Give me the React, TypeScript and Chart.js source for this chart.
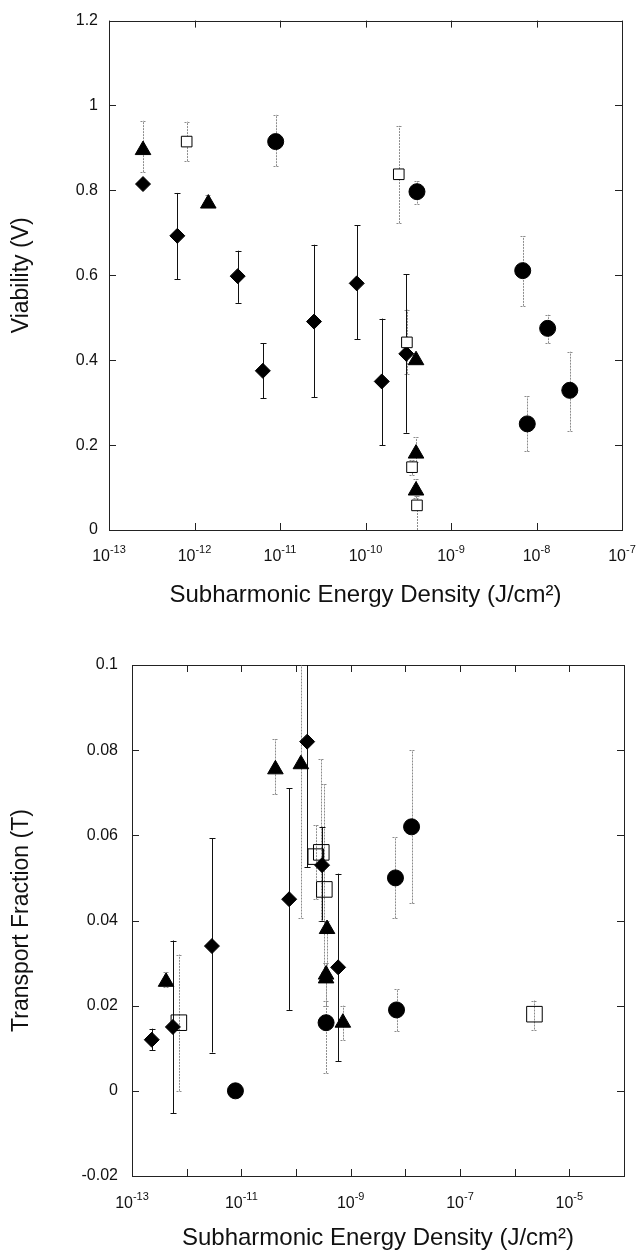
import React, { useEffect, useRef } from 'react';
import { Chart, registerables } from 'chart.js';

Chart.register(...registerables);

const FONT = '"Liberation Sans", Arial, Helvetica, sans-serif';
const X_TITLE = 'Subharmonic Energy Density (J/cm²)';

// ---------- Top chart: Viability ----------
const topXTicks = [1e-13, 1e-12, 1e-11, 1e-10, 1e-9, 1e-8, 1e-7];
const topXTickExp = ['-13', '-12', '-11', '-10', '-9', '-8', '-7'];
const topYTicks = [0, 0.2, 0.4, 0.6, 0.8, 1, 1.2];
const topYTickLabels = ['0', '0.2', '0.4', '0.6', '0.8', '1', '1.2'];

const topDiamondX = [2.5e-13, 6.3e-13, 3.2e-12, 6.3e-12, 2.5e-11, 7.9e-11, 1.55e-10, 3.0e-10];
const topDiamondY = [0.815, 0.693, 0.598, 0.375, 0.491, 0.581, 0.35, 0.415];
const topDiamondLo = [null, 0.591, 0.535, 0.31, 0.313, 0.449, 0.2, 0.229];
const topDiamondHi = [null, 0.794, 0.658, 0.44, 0.672, 0.718, 0.498, 0.602];

const topTriangleX = [2.5e-13, 1.45e-12, 3.9e-10, 3.9e-10, 3.9e-10];
const topTriangleY = [0.895, 0.769, 0.4, 0.18, 0.093];
const topTriangleLo = [0.843, 0.762, null, 0.16, 0.075];
const topTriangleHi = [0.964, 0.79, null, 0.218, 0.12];

const topSquareX = [8.1e-13, 2.45e-10, 3.05e-10, 3.5e-10, 4.0e-10];
const topSquareY = [0.915, 0.838, 0.442, 0.148, 0.058];
const topSquareLo = [0.869, 0.723, 0.368, 0.13, 0.0];
const topSquareHi = [0.962, 0.952, 0.519, 0.165, 0.08];

const topCircleX = [8.9e-12, 4.0e-10, 6.9e-9, 7.8e-9, 1.35e-8, 2.45e-8];
const topCircleY = [0.915, 0.797, 0.611, 0.25, 0.475, 0.329];
const topCircleLo = [0.857, 0.769, 0.528, 0.185, 0.44, 0.234];
const topCircleHi = [0.978, 0.822, 0.692, 0.315, 0.507, 0.42];

// ---------- Bottom chart: Transport fraction ----------
const botXTicks = [1e-13, 1e-12, 1e-11, 1e-10, 1e-9, 1e-8, 1e-7, 1e-6, 1e-5, 1e-4];
const botXTickExp = ['-13', '', '-11', '', '-9', '', '-7', '', '-5', ''];
const botYTicks = [-0.02, 0, 0.02, 0.04, 0.06, 0.08, 0.1];
const botYTickLabels = ['-0.02', '0', '0.02', '0.04', '0.06', '0.08', '0.1'];

const botDiamondX = [2.3e-13, 5.6e-13, 2.9e-12, 7.5e-11, 1.6e-10, 3.0e-10, 5.9e-10];
const botDiamondY = [0.012, 0.015, 0.034, 0.045, 0.082, 0.053, 0.029];
const botDiamondLo = [0.0096, -0.0053, 0.009, 0.019, 0.0525, 0.04, 0.007];
const botDiamondHi = [0.0146, 0.0353, 0.0593, 0.071, 0.105, 0.062, 0.051];

const botTriangleX = [4.2e-13, 4.2e-11, 1.23e-10, 3.7e-10, 3.55e-10, 3.55e-10, 7.2e-10];
const botTriangleY = [0.0256, 0.0755, 0.0767, 0.038, 0.0273, 0.0264, 0.016];
const botTriangleLo = [0.0245, 0.0696, 0.0407, 0.028, 0.02, 0.02, 0.012];
const botTriangleHi = [0.0278, 0.0826, 0.105, 0.04, 0.03, 0.03, 0.02];

const botSquareX = [7.2e-13, 2.3e-10, 2.9e-10, 3.3e-10, 2.3e-6];
const botSquareY = [0.016, 0.055, 0.056, 0.0473, 0.018];
const botSquareLo = [0.0, 0.045, 0.04, 0.028, 0.0144];
const botSquareHi = [0.032, 0.0624, 0.078, 0.072, 0.0212];

const botCircleX = [7.8e-12, 3.55e-10, 6.6e-9, 6.9e-9, 1.3e-8];
const botCircleY = [0.0, 0.016, 0.05, 0.019, 0.062];
const botCircleLo = [null, 0.0042, 0.0405, 0.014, 0.044];
const botCircleHi = [null, 0.021, 0.0595, 0.0238, 0.08];

type Series = {
  xs: number[];
  ys: number[];
  lo: (number | null)[];
  hi: (number | null)[];
  style: string;
  radius: number;
  fill: string;
  errColor: string;
  errDash: number[];
};

function makeDataset(s: Series) {
  return {
    data: s.xs.map((x, i) => ({ x, y: s.ys[i] })),
    pointStyle: s.style,
    pointRadius: s.radius,
    pointBackgroundColor: s.fill,
    pointBorderColor: '#000',
    pointBorderWidth: 1,
    showLine: false,
    errLo: s.lo,
    errHi: s.hi,
    errColor: s.errColor,
    errDash: s.errDash,
  };
}

type Opts = {
  series: Series[];
  xMin: number;
  xMax: number;
  xTicks: number[];
  xExp: string[];
  yMin: number;
  yMax: number;
  yTicks: number[];
  yLabels: string[];
  yTitle: string;
  padTop: number;
  padRight: number;
  xAxisH: number;
  yAxisW: number;
  yPad: number;
  xLabelOffset: number;
  xTitlePad: number;
  yTitlePad: number;
};

function decorPlugin(o: Opts) {
  return {
    id: 'decor',
    beforeDatasetsDraw(chart: any) {
      const { ctx, chartArea: a, scales } = chart;
      const xs = scales.x;
      const ys = scales.y;
      ctx.save();
      ctx.strokeStyle = '#222';
      ctx.lineWidth = 1;
      ctx.strokeRect(Math.round(a.left) + 0.5, Math.round(a.top) + 0.5, Math.round(a.width), Math.round(a.height));
      const tl = 7;
      ctx.beginPath();
      xs.ticks.forEach((t: any) => {
        const px = Math.round(xs.getPixelForValue(t.value)) + 0.5;
        ctx.moveTo(px, a.bottom);
        ctx.lineTo(px, a.bottom - tl);
        ctx.moveTo(px, a.top);
        ctx.lineTo(px, a.top + tl);
      });
      ys.ticks.forEach((t: any) => {
        const py = Math.round(ys.getPixelForValue(t.value)) + 0.5;
        ctx.moveTo(a.left, py);
        ctx.lineTo(a.left + tl, py);
        ctx.moveTo(a.right, py);
        ctx.lineTo(a.right - tl, py);
      });
      ctx.stroke();

      // error bars
      ctx.beginPath();
      ctx.rect(a.left, a.top, a.width, a.height);
      ctx.clip();
      chart.data.datasets.forEach((ds: any) => {
        ctx.strokeStyle = ds.errColor;
        ctx.setLineDash(ds.errDash);
        ds.data.forEach((p: any, i: number) => {
          const lo = ds.errLo[i];
          const hi = ds.errHi[i];
          if (lo == null || hi == null) return;
          const px = Math.round(xs.getPixelForValue(p.x)) + 0.5;
          const y1 = ys.getPixelForValue(lo);
          const y2 = ys.getPixelForValue(hi);
          ctx.beginPath();
          ctx.moveTo(px, y1);
          ctx.lineTo(px, y2);
          ctx.moveTo(px - 3, Math.round(y1) + 0.5);
          ctx.lineTo(px + 3, Math.round(y1) + 0.5);
          ctx.moveTo(px - 3, Math.round(y2) + 0.5);
          ctx.lineTo(px + 3, Math.round(y2) + 0.5);
          ctx.stroke();
        });
      });
      ctx.restore();
    },
    afterDraw(chart: any) {
      const { ctx, chartArea: a, scales } = chart;
      const xs = scales.x;
      ctx.save();
      ctx.fillStyle = '#111';
      ctx.textBaseline = 'middle';
      o.xTicks.forEach((v, i) => {
        const exp = o.xExp[i];
        if (!exp) return;
        const px = xs.getPixelForValue(v);
        const cy = a.bottom + o.xLabelOffset;
        ctx.font = `16px ${FONT}`;
        const wb = ctx.measureText('10').width;
        ctx.font = `11px ${FONT}`;
        const we = ctx.measureText(exp).width;
        const x0 = px - (wb + we) / 2;
        ctx.textAlign = 'left';
        ctx.font = `16px ${FONT}`;
        ctx.fillText('10', x0, cy);
        ctx.font = `11px ${FONT}`;
        ctx.fillText(exp, x0 + wb, cy - 7);
      });
      ctx.restore();
    },
  };
}

function makeConfig(o: Opts): any {
  return {
    type: 'scatter',
    data: { datasets: o.series.map(makeDataset) },
    options: {
      responsive: false,
      animation: false,
      events: [],
      layout: { padding: { top: o.padTop, right: o.padRight, left: 0, bottom: 0 } },
      plugins: { legend: { display: false }, tooltip: { enabled: false } },
      scales: {
        x: {
          type: 'logarithmic',
          min: o.xMin,
          max: o.xMax,
          grid: { display: false, drawTicks: false },
          border: { display: false },
          afterBuildTicks: (s: any) => {
            s.ticks = o.xTicks.map((v) => ({ value: v }));
          },
          ticks: { callback: () => '', autoSkip: false, maxRotation: 0 },
          title: {
            display: true,
            text: X_TITLE,
            color: '#111',
            font: { family: FONT, size: 24 },
            padding: { top: 0, bottom: o.xTitlePad },
          },
          afterFit: (s: any) => {
            s.height = o.xAxisH;
            s.paddingLeft = 0;
            s.paddingRight = 0;
          },
        },
        y: {
          type: 'linear',
          min: o.yMin,
          max: o.yMax,
          grid: { display: false, drawTicks: false },
          border: { display: false },
          afterBuildTicks: (s: any) => {
            s.ticks = o.yTicks.map((v) => ({ value: v }));
          },
          ticks: {
            callback: (_v: any, i: number) => o.yLabels[i],
            color: '#111',
            font: { family: FONT, size: 16 },
            padding: o.yPad,
            autoSkip: false,
          },
          title: {
            display: true,
            text: o.yTitle,
            color: '#111',
            font: { family: FONT, size: 23 },
            padding: { top: o.yTitlePad, bottom: 0 },
          },
          afterFit: (s: any) => {
            s.width = o.yAxisW;
          },
        },
      },
    },
    plugins: [decorPlugin(o)],
  };
}

const BLACK_ERR = '#111';
const GRAY_ERR = '#8c8c8c';

const topOpts: Opts = {
  series: [
    { xs: topSquareX, ys: topSquareY, lo: topSquareLo, hi: topSquareHi, style: 'rect', radius: 7.5, fill: '#fff', errColor: GRAY_ERR, errDash: [2, 1] },
    { xs: topDiamondX, ys: topDiamondY, lo: topDiamondLo, hi: topDiamondHi, style: 'rectRot', radius: 7.5, fill: '#000', errColor: BLACK_ERR, errDash: [] },
    { xs: topTriangleX, ys: topTriangleY, lo: topTriangleLo, hi: topTriangleHi, style: 'triangle', radius: 9, fill: '#000', errColor: GRAY_ERR, errDash: [2, 1] },
    { xs: topCircleX, ys: topCircleY, lo: topCircleLo, hi: topCircleHi, style: 'circle', radius: 8, fill: '#000', errColor: GRAY_ERR, errDash: [2, 1] },
  ],
  xMin: 1e-13,
  xMax: 1e-7,
  xTicks: topXTicks,
  xExp: topXTickExp,
  yMin: 0,
  yMax: 1.2,
  yTicks: topYTicks,
  yLabels: topYTickLabels,
  yTitle: 'Viability (V)',
  padTop: 14,
  padRight: 14,
  xAxisH: 90,
  yAxisW: 109,
  yPad: 11,
  xLabelOffset: 27,
  xTitlePad: 10,
  yTitlePad: 8,
};

const botOpts: Opts = {
  series: [
    { xs: botSquareX, ys: botSquareY, lo: botSquareLo, hi: botSquareHi, style: 'rect', radius: 11, fill: 'rgba(255,255,255,0)', errColor: GRAY_ERR, errDash: [2, 1] },
    { xs: botDiamondX, ys: botDiamondY, lo: botDiamondLo, hi: botDiamondHi, style: 'rectRot', radius: 7.5, fill: '#000', errColor: BLACK_ERR, errDash: [] },
    { xs: botTriangleX, ys: botTriangleY, lo: botTriangleLo, hi: botTriangleHi, style: 'triangle', radius: 9, fill: '#000', errColor: GRAY_ERR, errDash: [2, 1] },
    { xs: botCircleX, ys: botCircleY, lo: botCircleLo, hi: botCircleHi, style: 'circle', radius: 8, fill: '#000', errColor: GRAY_ERR, errDash: [2, 1] },
  ],
  xMin: 1e-13,
  xMax: 1e-4,
  xTicks: botXTicks,
  xExp: botXTickExp,
  yMin: -0.02,
  yMax: 0.1,
  yTicks: botYTicks,
  yLabels: botYTickLabels,
  yTitle: 'Transport Fraction (T)',
  padTop: 45,
  padRight: 3,
  xAxisH: 77,
  yAxisW: 132,
  yPad: 14,
  xLabelOffset: 28,
  xTitlePad: 0,
  yTitlePad: 8,
};

function ChartCanvas({ opts, top, height }: { opts: Opts; top: number; height: number }) {
  const ref = useRef<HTMLCanvasElement>(null);
  useEffect(() => {
    if (!ref.current) return;
    const chart = new Chart(ref.current, makeConfig(opts));
    return () => chart.destroy();
  }, []);
  return (
    <canvas
      ref={ref}
      width={636}
      height={height}
      style={{ position: 'absolute', left: 0, top, width: 636, height, display: 'block' }}
    />
  );
}

export default function App() {
  return (
    <div style={{ position: 'absolute', left: 0, top: 0, width: 636, height: 1253, background: '#fff', overflow: 'hidden' }}>
      <ChartCanvas opts={topOpts} top={0} height={620} />
      <ChartCanvas opts={botOpts} top={620} height={633} />
    </div>
  );
}
